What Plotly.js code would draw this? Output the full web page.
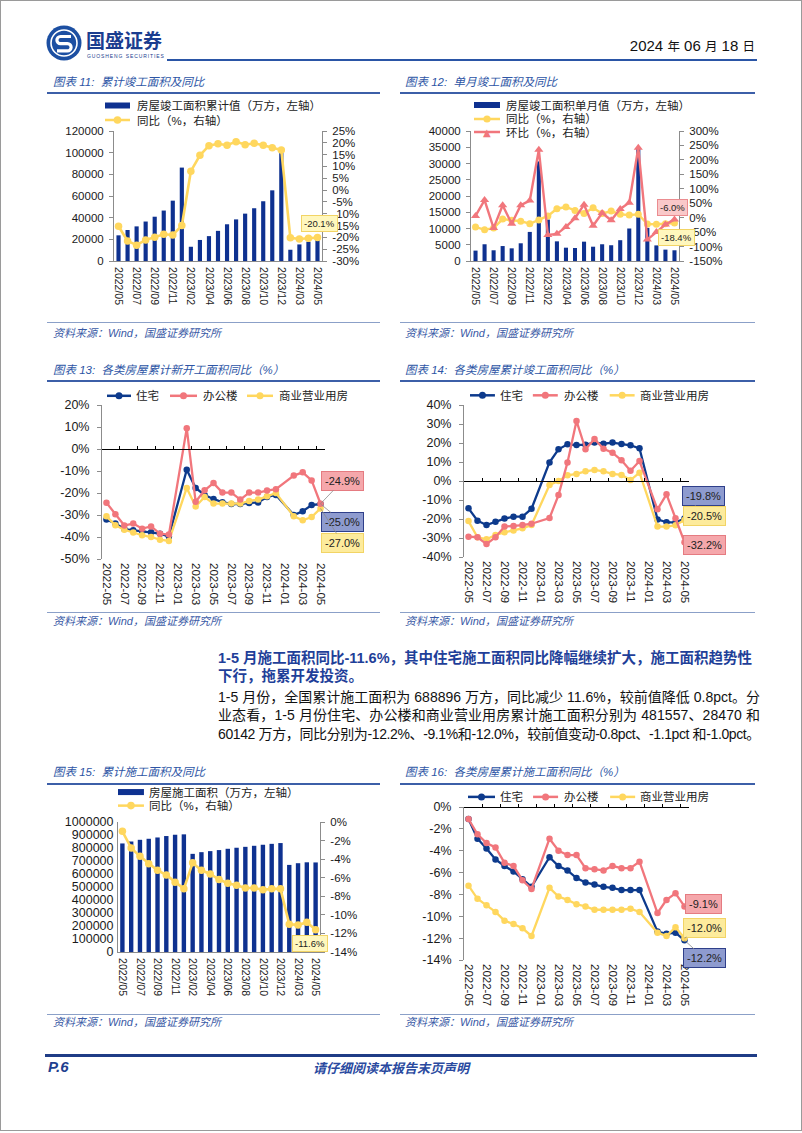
<!DOCTYPE html>
<html><head><meta charset="utf-8">
<script src="https://cdn.plot.ly/plotly-3.0.1.min.js"></script>
<style>
body{margin:0;background:#fff;}
#page{position:relative;width:802px;height:1133px;background:#fff;overflow:hidden;font-family:"Liberation Sans",Arial,"Noto Sans CJK SC",sans-serif;}
#frame{position:absolute;left:0;top:0;width:802px;height:1131px;box-sizing:border-box;border:1px solid #9a9a9a;pointer-events:none;}
.abs{position:absolute;white-space:nowrap;}
.ttl{font-size:11.5px;font-style:italic;color:#2d55a5;line-height:16px;font-family:"Liberation Sans","Noto Sans CJK SC",sans-serif;}
.src{font-size:11px;font-style:italic;color:#3a5aa6;line-height:14px;}
.rule{position:absolute;}
.chart{position:absolute;}
.jl{position:absolute;white-space:nowrap;font-size:14px;line-height:18px;color:#111;font-family:"Liberation Sans","Noto Sans CJK SC",sans-serif;}
.hd{font-weight:bold;color:#1f3f99;font-size:14.5px;}
</style></head>
<body>
<div id="page">
  <!-- header -->
  <svg class="abs" style="left:45px;top:24px" width="38" height="38" viewBox="0 0 38 38">
    <circle cx="19" cy="19" r="17.5" fill="#1c4fa2"/>
    <circle cx="19" cy="19" r="13" fill="none" stroke="#fff" stroke-width="1.6"/>
    <path d="M26 12.5 H15.5 a3.6 3.6 0 0 0 0 7.2 H22.5 a3.6 3.6 0 0 1 0 7.2 H12" stroke="#fff" stroke-width="3.2" fill="none"/>
  </svg>
  <div class="abs" style="left:86px;top:28px;font-size:19px;line-height:24px;font-weight:bold;color:#1b3d8f;font-family:'Noto Sans CJK SC',sans-serif;">国盛证券</div>
  <div class="abs" style="left:87px;top:53px;font-size:5px;line-height:6px;letter-spacing:0.9px;color:#1b3d8f;">GUOSHENG SECURITIES</div>
  <div class="abs" style="right:47px;top:36px;font-size:15px;line-height:20px;color:#111;">2024 <span style="font-size:12.5px">年</span> 06 <span style="font-size:12.5px">月</span> 18 <span style="font-size:12.5px">日</span></div>
  <div class="rule" style="left:167px;top:59px;width:590px;height:2px;background:#2a55a6;"></div>

  <!-- titles -->
  <div class="abs ttl" style="left:53px;top:74px;">图表 11:&nbsp; 累计竣工面积及同比</div>
  <div class="rule" style="left:47px;top:92px;width:333px;height:1.6px;background:#3c5fa8;"></div>
  <div class="abs ttl" style="left:405px;top:74px;">图表 12:&nbsp; 单月竣工面积及同比</div>
  <div class="rule" style="left:400px;top:92px;width:355px;height:1.6px;background:#3c5fa8;"></div>
  <div class="rule" style="left:47px;top:322px;width:333px;height:1.2px;background:#8ba0c8;"></div>
  <div class="abs src" style="left:53px;top:326px;">资料来源：Wind，国盛证券研究所</div>
  <div class="rule" style="left:400px;top:322px;width:355px;height:1.2px;background:#8ba0c8;"></div>
  <div class="abs src" style="left:405px;top:326px;">资料来源：Wind，国盛证券研究所</div>

  <div class="abs ttl" style="left:53px;top:362px;">图表 13:&nbsp; 各类房屋累计新开工面积同比（%）</div>
  <div class="rule" style="left:47px;top:380px;width:333px;height:1.6px;background:#3c5fa8;"></div>
  <div class="abs ttl" style="left:405px;top:362px;">图表 14:&nbsp; 各类房屋累计竣工面积同比（%）</div>
  <div class="rule" style="left:400px;top:380px;width:355px;height:1.6px;background:#3c5fa8;"></div>
  <div class="rule" style="left:47px;top:612px;width:333px;height:1.2px;background:#8ba0c8;"></div>
  <div class="abs src" style="left:53px;top:614px;">资料来源：Wind，国盛证券研究所</div>
  <div class="rule" style="left:400px;top:612px;width:355px;height:1.2px;background:#8ba0c8;"></div>
  <div class="abs src" style="left:405px;top:614px;">资料来源：Wind，国盛证券研究所</div>

  <!-- text block -->
  <div class="jl hd" data-w="534" style="left:218px;top:649px;">1-5 月施工面积同比-11.6%，其中住宅施工面积同比降幅继续扩大，施工面积趋势性</div>
  <div class="jl hd" style="left:218px;top:667px;">下行，拖累开发投资。</div>
  <div class="jl" data-w="542" style="left:218px;top:688px;">1-5 月份，全国累计施工面积为 688896 万方，同比减少 11.6%，较前值降低 0.8pct。分</div>
  <div class="jl" data-w="542" style="left:218px;top:706px;">业态看，1-5 月份住宅、办公楼和商业营业用房累计施工面积分别为 481557、28470 和</div>
  <div class="jl" data-w="542" style="left:218px;top:725px;">60142 万方，同比分别为-12.2%、-9.1%和-12.0%，较前值变动-0.8pct、-1.1pct 和-1.0pct。</div>

  <div class="abs ttl" style="left:53px;top:764px;">图表 15:&nbsp; 累计施工面积及同比</div>
  <div class="rule" style="left:47px;top:783px;width:333px;height:1.6px;background:#3c5fa8;"></div>
  <div class="abs ttl" style="left:405px;top:764px;">图表 16:&nbsp; 各类房屋累计施工面积同比（%）</div>
  <div class="rule" style="left:400px;top:783px;width:355px;height:1.6px;background:#3c5fa8;"></div>
  <div class="rule" style="left:47px;top:1014px;width:333px;height:1.2px;background:#8ba0c8;"></div>
  <div class="abs src" style="left:53px;top:1015px;">资料来源：Wind，国盛证券研究所</div>
  <div class="rule" style="left:400px;top:1014px;width:355px;height:1.2px;background:#8ba0c8;"></div>
  <div class="abs src" style="left:405px;top:1015px;">资料来源：Wind，国盛证券研究所</div>

  <!-- footer -->
  <div class="rule" style="left:45px;top:1054px;width:712px;height:2.5px;background:#1f3c86;"></div>
  <div class="abs" style="left:48px;top:1058px;font-size:15px;line-height:18px;font-weight:bold;font-style:italic;color:#1f3f8f;">P.6</div>
  <div class="abs" style="left:313px;top:1059px;font-size:13px;line-height:17px;font-weight:bold;font-style:italic;color:#2a4aa0;font-family:'Noto Sans CJK SC',sans-serif;">请仔细阅读本报告末页声明</div>

  <div id="c11" class="chart"></div>
  <div id="c12" class="chart"></div>
  <div id="c13" class="chart"></div>
  <div id="c14" class="chart"></div>
  <div id="c15" class="chart"></div>
  <div id="c16" class="chart"></div>
  <div id="frame"></div>
</div>
<script>
// ---------------- data ----------------
const months23 = ['2022/05','2022/06','2022/07','2022/08','2022/09','2022/10','2022/11','2022/12','2023/02','2023/03','2023/04','2023/05','2023/06','2023/07','2023/08','2023/09','2023/10','2023/11','2023/12','2024/02','2024/03','2024/04','2024/05'];
const ticks23 = ['2022/05','2022/07','2022/09','2022/11','2023/02','2023/04','2023/06','2023/08','2023/10','2023/12','2024/03','2024/05'];
const months25 = ['2022-05','2022-06','2022-07','2022-08','2022-09','2022-10','2022-11','2022-12','2023-01','2023-02','2023-03','2023-04','2023-05','2023-06','2023-07','2023-08','2023-09','2023-10','2023-11','2023-12','2024-01','2024-02','2024-03','2024-04','2024-05'];
const ticks25 = ['2022-05','2022-07','2022-09','2022-11','2023-01','2023-03','2023-05','2023-07','2023-09','2023-11','2024-01','2024-03','2024-05'];

// chart 11: cumulative completion (万方) and YoY (%)
const complCum = [23696,28636,31954,36435,40879,46565,55709,86222,13142,19422,22964,27826,33904,38405,43726,48705,55151,65237,99831,10395,15300,17800,22245];
const complCumYoY = [-15.3,-21.5,-23.3,-21.1,-19.9,-18.7,-19.0,-15.0,8.0,14.7,18.8,19.6,19.0,20.5,19.2,19.8,19.0,17.9,17.0,-20.2,-20.7,-20.4,-20.1];
// chart 12: monthly completion, YoY, MoM
const complMon = [3200,5150,3300,4600,3900,5450,8950,30650,12750,6050,4100,4000,5950,4400,5150,4850,6400,10000,34700,10200,4800,3500,3300];
const complMonYoY = [-32,-42,-36,-5,-9,-12,-21,-8,6,31,37,25,14,34,14,23,12,9,12,-22,-23,-21,-18.4];
const complMonMoM = [6,61,-36,43,-21,43,59,235,-60,-56,-32,-2,45,-28,16,-9,30,52,242,-76,-50,-24,-6.0];
// chart 13: new starts YoY by type
const resNewStart = [-32.0,-33.9,-36.4,-36.9,-37.6,-37.8,-38.5,-39.8,null,-9.4,-17.7,-20.9,-22.7,-24.2,-25.0,-25.0,-24.5,-24.3,-21.8,-20.9,null,-30.0,-28.3,-25.5,-25.0];
const offNewStart = [-24.4,-29.7,-34.8,-33.9,-36.2,-35.2,-38.5,-38.9,null,9.4,-24.0,-18.8,-15.5,-19.8,-19.8,-23.0,-19.8,-19.8,-18.9,-18.3,null,-12.1,-10.6,-14.3,-24.9];
const comNewStart = [-30.6,-34.7,-36.7,-37.9,-39.2,-40.0,-41.2,-41.8,null,-17.7,-26.1,-21.8,-24.8,-24.8,-24.8,-24.8,-23.6,-23.0,-21.5,-20.0,null,-30.6,-32.4,-30.9,-27.0];
// chart 14: completion YoY by type
const resCompl = [-14.4,-20.9,-23.2,-21.4,-19.8,-18.8,-18.8,-14.6,null,9.8,16.7,19.3,18.9,19.1,20.2,19.6,20.2,19.5,18.8,17.2,null,-20.2,-21.7,-21.9,-19.8];
const offCompl = [-29.3,-29.6,-33.2,-29.6,-24.0,-23.7,-23.2,-22.5,null,-19.5,-7.4,9.8,31.6,16.7,22.1,17.0,14.9,10.9,5.4,10.5,null,-14.9,-7.0,-19.6,-32.2];
const comCompl = [-21.1,-29.6,-30.7,-28.4,-27.0,-26.1,-24.9,-23.2,null,-2.1,0.0,3.0,3.7,5.1,5.8,5.1,3.7,3.2,0.5,4.4,null,-24.0,-24.0,-23.3,-20.5];
// chart 15: cumulative construction area and YoY
const constrCum = [835000,850000,863000,871000,881000,892000,902000,905000,755000,768000,776000,784000,794000,802000,809000,817000,825000,832000,838000,670000,683000,690000,688896];
const constrYoY = [-1.0,-2.8,-3.7,-4.5,-5.2,-5.7,-6.5,-7.2,-4.4,-5.2,-5.6,-6.2,-6.6,-6.8,-7.1,-7.1,-7.3,-7.2,-7.2,-11.0,-11.1,-10.8,-11.6];
// chart 16: construction YoY by type
const resConstr = [-1.1,-2.9,-3.8,-4.8,-5.4,-5.9,-6.6,-7.3,null,-4.6,-5.4,-5.8,-6.5,-6.9,-7.1,-7.3,-7.4,-7.6,-7.6,-7.6,null,-11.4,-11.6,-11.5,-12.2];
const offConstr = [-1.1,-2.5,-3.3,-3.7,-5.1,-5.4,-6.7,-7.5,null,-2.9,-4.0,-4.4,-4.4,-5.6,-5.7,-5.8,-5.4,-5.6,-5.6,-5.0,null,-9.7,-8.5,-7.9,-9.1];
const comConstr = [-7.2,-8.4,-9.0,-9.6,-10.4,-10.7,-11.1,-11.8,null,-7.4,-8.2,-8.5,-8.9,-9.1,-9.4,-9.4,-9.4,-9.4,-9.3,-9.6,null,-11.5,-11.8,-11.0,-12.0];

// axis tick values
const leftTicks11 = [0,20000,40000,60000,80000,100000,120000];
const rightTicks11 = [-30,-25,-20,-15,-10,-5,0,5,10,15,20,25];
const leftTicks12 = [0,5000,10000,15000,20000,25000,30000,35000,40000];
const rightTicks12 = [-150,-100,-50,0,50,100,150,200,250,300];
const ticks13 = [-50,-40,-30,-20,-10,0,10,20];
const ticks14 = [-40,-30,-20,-10,0,10,20,30,40];
const leftTicks15 = [0,100000,200000,300000,400000,500000,600000,700000,800000,900000,1000000];
const rightTicks15 = [-14,-12,-10,-8,-6,-4,-2,0];
const ticks16 = [-14,-12,-10,-8,-6,-4,-2,0];

// ---------------- style ----------------
const FONT = '"Liberation Sans", Arial, "Noto Sans CJK SC", sans-serif';
const NAVY = '#0e3190', BLUE = '#0d3a8c', YEL = '#ffd75e', RED = '#f1767c', AX = '#8c8c8c', TXT = '#1a1a1a';
const BOX = {
  red:{bg:'#f5a7ab',bd:'#e57b81'}, blue:{bg:'#8e9bcf',bd:'#2f3f8a'}, yel:{bg:'#fdeb9c',bd:'#f2d465'},
  yelL:{bg:'#fff7bd',bd:'#f2d465'}, redL:{bg:'#f9c8c9',bd:'#eb8c90'}
};

function pct(vals){return {tickmode:'array', tickvals:vals, ticktext:vals.map(v=>v+'%')};}

function setup(id, box, plot){
  const el = document.getElementById(id);
  el.style.left = box.l+'px'; el.style.top = box.t+'px';
  el.style.width = box.w+'px'; el.style.height = box.h+'px';
  const m = {l:plot.l-box.l, r:box.l+box.w-plot.r, t:plot.t-box.t, b:box.t+box.h-plot.b, pad:0};
  const pw = plot.r-plot.l, ph = plot.b-plot.t;
  return {el, m, box, px:x=>(x-plot.l)/pw, py:y=>1-(y-plot.t)/ph};
}

function legend(g, items){
  const shapes=[], anns=[];
  items.forEach(it=>{
    if(it.kind==='bar'){
      shapes.push({type:'rect',xref:'paper',yref:'paper',x0:g.px(it.x0),x1:g.px(it.x1),y0:g.py(it.y+3),y1:g.py(it.y-3),fillcolor:it.color,line:{width:0}});
    } else {
      shapes.push({type:'line',xref:'paper',yref:'paper',x0:g.px(it.x0),x1:g.px(it.x1),y0:g.py(it.y),y1:g.py(it.y),line:{color:it.color,width:it.lw||2.5}});
      const cx=(it.x0+it.x1)/2;
      if(it.marker==='circle'){
        shapes.push({type:'circle',xref:'paper',yref:'paper',xsizemode:'pixel',ysizemode:'pixel',xanchor:g.px(cx),yanchor:g.py(it.y),x0:-it.ms,x1:it.ms,y0:-it.ms,y1:it.ms,fillcolor:it.color,line:{width:0}});
      } else if(it.marker==='triangle'){
        anns.push({xref:'paper',yref:'paper',x:g.px(cx),y:g.py(it.y+0.5),text:'▲',showarrow:false,xanchor:'center',yanchor:'middle',font:{family:'DejaVu Sans',size:10,color:it.color}});
      }
    }
    anns.push({xref:'paper',yref:'paper',x:g.px(it.tx),y:g.py(it.y),xanchor:'left',yanchor:'middle',text:it.text,showarrow:false,font:{family:FONT,size:11.5,color:'#222'}});
  });
  return {shapes, anns};
}

function callout(x, y, yref, style, fs, o){
  const a = {x:x, y:y, xref:'x', yref:yref, text:(y.toFixed(1))+'%', bgcolor:style.bg, bordercolor:style.bd, borderwidth:1,
    borderpad:o.pad||3, font:{family:FONT,size:fs,color:'#222'}};
  if(o.ax!==undefined){ Object.assign(a,{showarrow:true, ax:o.ax, ay:o.ay, axref:'pixel', ayref:'pixel', arrowhead:0, arrowwidth:0.8, arrowcolor:'#8a8a8a', standoff:0, startstandoff:0}); }
  else { Object.assign(a,{showarrow:false, xshift:o.xs||0, yshift:o.ys||0}); }
  return a;
}

function yAx(extra){
  return Object.assign({showline:true, linecolor:AX, linewidth:1, ticks:'outside', ticklen:4, tickcolor:AX,
    showgrid:false, zeroline:false, tickfont:{size:11.5,color:TXT}, ticklabelstandoff:3, fixedrange:true}, extra);
}
function xCat(tv, n, fs, extra){
  return Object.assign({type:'category', tickmode:'array', tickvals:tv, ticktext:tv, tickangle:90, range:[-0.5,n-0.5],
    ticks:'', showgrid:false, zeroline:false, tickfont:{size:fs,color:TXT}, ticklabelstandoff:3, fixedrange:true}, extra);
}
function zeroAxis(pos, n){
  const tv = []; for(let i=1;i<n-1;i+=2) tv.push(i+0.5);
  return {overlaying:'x', anchor:'free', position:pos, type:'linear', range:[-0.5,n-0.5], showline:true, linecolor:'#000', linewidth:1,
    ticks:'inside', ticklen:3, tickcolor:'#000', tickmode:'array', tickvals:tv, showticklabels:false, showgrid:false, zeroline:false, side:'bottom', fixedrange:true};
}

function draw(g, traces, layout, leg, callouts){
  const lg = legend(g, leg);
  Object.assign(layout, {width:g.box.w, height:g.box.h, margin:g.m, showlegend:false,
    paper_bgcolor:'rgba(0,0,0,0)', plot_bgcolor:'rgba(0,0,0,0)', font:{family:FONT,color:TXT},
    shapes:lg.shapes, annotations:callouts.concat(lg.anns)});
  Plotly.newPlot(g.el, traces, layout, {staticPlot:true, displayModeBar:false});
}
function line(x, y, color, ms, lw, sym, extra){
  return Object.assign({type:'scatter', mode:'lines+markers', x:x, y:y, connectgaps:true, cliponaxis:false,
    line:{color:color, width:lw}, marker:{color:color, size:ms, symbol:sym||'circle', line:{width:0}}, hoverinfo:'skip'}, extra||{});
}

// ---------------- chart 11 ----------------
(function(){
  const g = setup('c11', {l:40,t:97,w:360,h:225}, {l:114,r:322,t:131,b:261});
  draw(g, [
    {type:'bar', x:months23, y:complCum, marker:{color:NAVY, line:{width:0}}, hoverinfo:'skip'},
    line(months23, complCumYoY, YEL, 7.5, 2.6, 'circle', {yaxis:'y2'})
  ], {
    bargap:0.54,
    xaxis:xCat(ticks23, 23, 10.5, {showline:true, linecolor:AX}),
    yaxis:yAx({range:[0,120000], tickmode:'array', tickvals:leftTicks11, ticktext:leftTicks11.map(String)}),
    yaxis2:yAx(Object.assign({overlaying:'y', side:'right', range:[-30,25]}, pct(rightTicks11)))
  }, [
    {kind:'bar', color:NAVY, x0:105, x1:130, y:105.5, tx:135, text:'房屋竣工面积累计值（万方，左轴）'},
    {kind:'line', color:YEL, marker:'circle', ms:3.8, x0:105, x1:130, y:120, tx:135, text:'同比（%，右轴）'}
  ], [
    callout(months23[22], complCumYoY[22], 'y2', BOX.yelL, 9.5, {xs:2, ys:14, pad:2})
  ]);
})();

// ---------------- chart 12 ----------------
(function(){
  const g = setup('c12', {l:400,t:97,w:370,h:225}, {l:471,r:679,t:131,b:261});
  draw(g, [
    {type:'bar', x:months23, y:complMon, marker:{color:NAVY, line:{width:0}}, hoverinfo:'skip'},
    line(months23, complMonYoY, YEL, 7, 2.4, 'circle', {yaxis:'y2'}),
    line(months23, complMonMoM, RED, 8, 2.4, 'triangle-up', {yaxis:'y2'})
  ], {
    bargap:0.55,
    xaxis:xCat(ticks23, 23, 10.5, {showline:true, linecolor:AX}),
    yaxis:yAx({range:[0,40000], tickmode:'array', tickvals:leftTicks12, ticktext:leftTicks12.map(String)}),
    yaxis2:yAx(Object.assign({overlaying:'y', side:'right', range:[-150,300]}, pct(rightTicks12)))
  }, [
    {kind:'bar', color:NAVY, x0:474, x1:500, y:105, tx:504, text:'房屋竣工面积单月值（万方，左轴）'},
    {kind:'line', color:YEL, marker:'circle', ms:3.6, x0:474, x1:500, y:119, tx:504, text:'同比（%，右轴）'},
    {kind:'line', color:RED, marker:'triangle', x0:474, x1:500, y:132, tx:504, text:'环比（%，右轴）'}
  ], [
    callout(months23[22], complMonMoM[22], 'y2', BOX.redL, 9.5, {xs:-2, ys:12, pad:2}),
    callout(months23[22], complMonYoY[22], 'y2', BOX.yelL, 9.5, {xs:2.5, ys:-15, pad:2})
  ]);
})();

// ---------------- chart 13 ----------------
(function(){
  const g = setup('c13', {l:40,t:385,w:360,h:230}, {l:102,r:325,t:404.7,b:558.7});
  draw(g, [
    line(months25, resNewStart, BLUE, 6.5, 2.3),
    line(months25, comNewStart, YEL, 6.5, 2.3),
    line(months25, offNewStart, RED, 6.5, 2.3),
    {type:'scatter', mode:'markers', x:[], y:[], xaxis:'x2', yaxis:'y', hoverinfo:'skip'}
  ], {
    xaxis:xCat(ticks25, 25, 11.5, {showline:false}),
    xaxis2:zeroAxis(50/70, 25),
    yaxis:yAx(Object.assign({range:[-50,20], tickfont:{size:12.5,color:TXT}, ticklabelstandoff:5}, pct(ticks13)))
  }, [
    {kind:'line', color:BLUE, marker:'circle', ms:3.5, x0:107, x1:131, y:395.5, tx:134, text:'住宅'},
    {kind:'line', color:RED, marker:'circle', ms:3.5, x0:170, x1:197, y:395.5, tx:201, text:'办公楼'},
    {kind:'line', color:YEL, marker:'circle', ms:3.5, x0:247, x1:273, y:395.5, tx:277, text:'商业营业用房'}
  ], [
    callout(months25[24], offNewStart[24], 'y', BOX.red, 11, {ax:22, ay:-23}),
    callout(months25[24], resNewStart[24], 'y', BOX.blue, 11, {ax:22, ay:18}),
    callout(months25[24], comNewStart[24], 'y', BOX.yel, 11, {ax:22, ay:34.5})
  ]);
})();

// ---------------- chart 14 ----------------
(function(){
  const g = setup('c14', {l:400,t:385,w:370,h:230}, {l:464,r:689.5,t:404.7,b:557});
  draw(g, [
    line(months25, resCompl, BLUE, 6.5, 2.3),
    line(months25, comCompl, YEL, 6.5, 2.3),
    line(months25, offCompl, RED, 6.5, 2.3),
    {type:'scatter', mode:'markers', x:[], y:[], xaxis:'x2', yaxis:'y', hoverinfo:'skip'}
  ], {
    xaxis:xCat(ticks25, 25, 11.5, {showline:false}),
    xaxis2:zeroAxis(0.5, 25),
    yaxis:yAx(Object.assign({range:[-40,40], tickfont:{size:12.5,color:TXT}, ticklabelstandoff:5}, pct(ticks14)))
  }, [
    {kind:'line', color:BLUE, marker:'circle', ms:3.5, x0:470, x1:495, y:395, tx:498, text:'住宅'},
    {kind:'line', color:RED, marker:'circle', ms:3.5, x0:533, x1:558, y:395, tx:562, text:'办公楼'},
    {kind:'line', color:YEL, marker:'circle', ms:3.5, x0:610, x1:635, y:395, tx:638, text:'商业营业用房'}
  ], [
    callout(months25[24], resCompl[24], 'y', BOX.blue, 11, {ax:19, ay:-23}),
    callout(months25[24], comCompl[24], 'y', BOX.yel, 11, {ax:19.5, ay:-4.3}),
    callout(months25[24], offCompl[24], 'y', BOX.red, 11, {ax:19.5, ay:2.4})
  ]);
})();

// ---------------- chart 15 ----------------
(function(){
  const g = setup('c15', {l:40,t:786,w:360,h:230}, {l:118,r:320.4,t:822.3,b:951.7});
  draw(g, [
    {type:'bar', x:months23, y:constrCum, marker:{color:NAVY, line:{width:0}}, hoverinfo:'skip'},
    line(months23, constrYoY, YEL, 7.5, 2.6, 'circle', {yaxis:'y2'})
  ], {
    bargap:0.5,
    xaxis:xCat(ticks23, 23, 10.5, {showline:true, linecolor:AX}),
    yaxis:yAx({range:[0,1000000], tickmode:'array', tickvals:leftTicks15, ticktext:leftTicks15.map(String), tickfont:{size:12.5,color:TXT}, ticklen:0, ticks:'', ticklabelstandoff:1}),
    yaxis2:yAx(Object.assign({overlaying:'y', side:'right', range:[-14,0]}, pct(rightTicks15)))
  }, [
    {kind:'bar', color:NAVY, x0:118, x1:144, y:792.5, tx:147, text:'房屋施工面积（万方，左轴）'},
    {kind:'line', color:YEL, marker:'circle', ms:3.8, x0:118, x1:144, y:806, tx:147, text:'同比（%，右轴）'}
  ], [
    callout(months23[22], constrYoY[22], 'y2', BOX.yelL, 9.5, {xs:-5.5, ys:-13.5, pad:2})
  ]);
})();

// ---------------- chart 16 ----------------
(function(){
  const g = setup('c16', {l:400,t:786,w:370,h:230}, {l:464,r:688.8,t:806.8,b:959.7});
  draw(g, [
    line(months25, resConstr, BLUE, 6.5, 2.3),
    line(months25, comConstr, YEL, 6.5, 2.3),
    line(months25, offConstr, RED, 6.5, 2.3),
    {type:'scatter', mode:'markers', x:[], y:[], xaxis:'x2', yaxis:'y', hoverinfo:'skip'}
  ], {
    xaxis:xCat(ticks25, 25, 11.5, {showline:false}),
    xaxis2:zeroAxis(1, 25),
    yaxis:yAx(Object.assign({range:[-14,0], tickfont:{size:12.5,color:TXT}, ticklabelstandoff:5}, pct(ticks16)))
  }, [
    {kind:'line', color:BLUE, marker:'circle', ms:3.5, x0:468, x1:495, y:796.7, tx:498, text:'住宅'},
    {kind:'line', color:RED, marker:'circle', ms:3.5, x0:533, x1:558, y:796.7, tx:562, text:'办公楼'},
    {kind:'line', color:YEL, marker:'circle', ms:3.5, x0:610, x1:635, y:796.7, tx:638, text:'商业营业用房'}
  ], [
    callout(months25[24], offConstr[24], 'y', BOX.red, 11, {ax:19, ay:-2.4}),
    callout(months25[24], comConstr[24], 'y', BOX.yel, 11, {ax:20, ay:-10.6}),
    callout(months25[24], resConstr[24], 'y', BOX.blue, 11, {ax:20, ay:18})
  ]);
})();

// fit text lines to target width
document.querySelectorAll('.jl[data-w]').forEach(el=>{
  const target = +el.dataset.w;
  const w = el.getBoundingClientRect().width;
  const n = el.textContent.length;
  el.style.letterSpacing = ((target - w)/n) + 'px';
});
</script>
</body></html>
